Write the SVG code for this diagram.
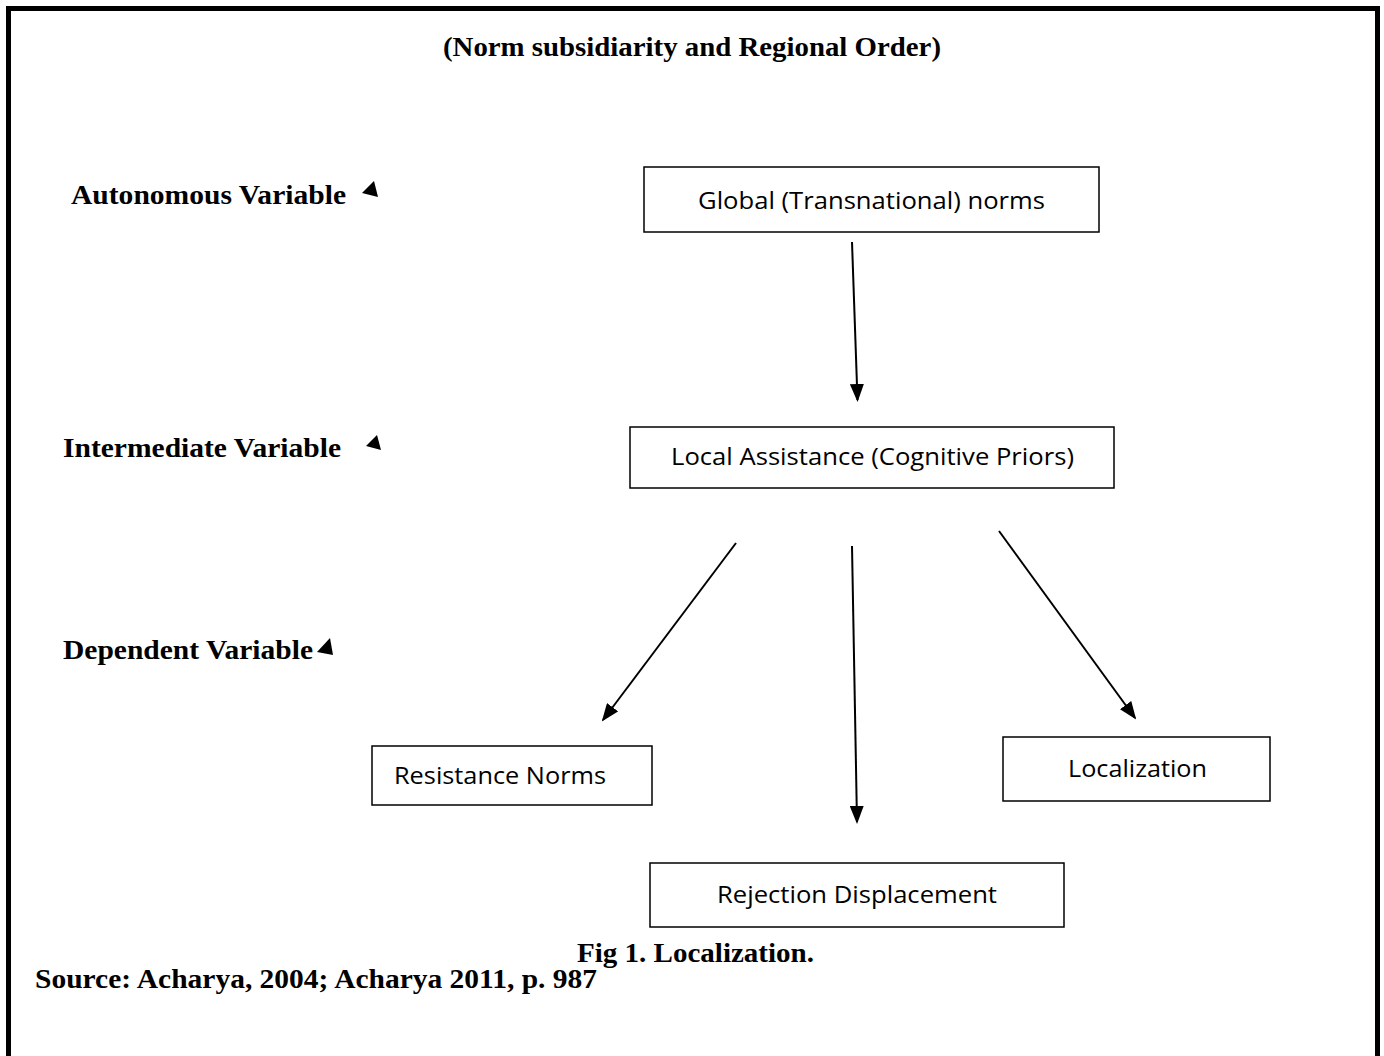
<svg xmlns="http://www.w3.org/2000/svg" width="1384" height="1056" viewBox="0 0 1384 1056">
<style>
.t{font-family:"Liberation Serif","Times New Roman",serif;font-weight:bold;font-size:27px;fill:#000}
.box rect{fill:#fff;stroke:#000;stroke-width:1.5}
.box text{font-family:"Open Sans","Noto Sans",sans-serif;font-size:24px;fill:#000}
.con line{stroke:#000;stroke-width:2}
</style>
<defs>
<marker id="ah" markerWidth="9" markerHeight="7" refX="8" refY="3.5" orient="auto" markerUnits="strokeWidth">
<polygon points="0,0 9,3.5 0,7" fill="#000"/>
</marker>
</defs>
<rect x="0" y="0" width="1384" height="1056" fill="#fff"/>
<rect x="8.5" y="8.5" width="1369" height="1080" fill="none" stroke="#000" stroke-width="5"/>
<text class="t" x="443" y="56" textLength="498" lengthAdjust="spacingAndGlyphs">(Norm subsidiarity and Regional Order)</text>
<g id="lbl-autonomous"><text class="t" x="71" y="204" textLength="275" lengthAdjust="spacingAndGlyphs">Autonomous Variable</text><polygon points="374,181 362,193 378,197"/></g>
<g id="lbl-intermediate"><text class="t" x="63" y="457" textLength="278" lengthAdjust="spacingAndGlyphs">Intermediate Variable</text><polygon points="377,435 366,446 381,450"/></g>
<g id="lbl-dependent"><text class="t" x="63" y="659" textLength="250" lengthAdjust="spacingAndGlyphs">Dependent Variable</text><polygon points="330,638 317,652 333,655"/></g>
<g id="global" class="box"><rect x="644" y="167" width="455" height="65"/><text x="698" y="209" textLength="347" lengthAdjust="spacingAndGlyphs">Global (Transnational) norms</text></g>
<g id="local" class="box"><rect x="630" y="427" width="484" height="61"/><text x="671" y="465" textLength="403" lengthAdjust="spacingAndGlyphs">Local Assistance (Cognitive Priors)</text></g>
<g id="resistance" class="box"><rect x="372" y="746" width="280" height="59"/><text x="394" y="784" textLength="212" lengthAdjust="spacingAndGlyphs">Resistance Norms</text></g>
<g id="localization" class="box"><rect x="1003" y="737" width="267" height="64"/><text x="1068" y="777" textLength="139" lengthAdjust="spacingAndGlyphs">Localization</text></g>
<g id="rejection" class="box"><rect x="650" y="863" width="414" height="64"/><text x="717" y="903" textLength="280" lengthAdjust="spacingAndGlyphs">Rejection Displacement</text></g>
<g id="connectors" class="con">
<line x1="852" y1="242" x2="857.5" y2="400" marker-end="url(#ah)"/>
<line x1="736" y1="543" x2="603" y2="720" marker-end="url(#ah)"/>
<line x1="852" y1="546" x2="857" y2="822" marker-end="url(#ah)"/>
<line x1="999" y1="531" x2="1135" y2="718" marker-end="url(#ah)"/>
</g>
<text class="t" x="577" y="962" textLength="237" lengthAdjust="spacingAndGlyphs">Fig 1. Localization.</text>
<text class="t" x="35" y="988" textLength="562" lengthAdjust="spacingAndGlyphs">Source: Acharya, 2004; Acharya 2011, p. 987</text>
</svg>
